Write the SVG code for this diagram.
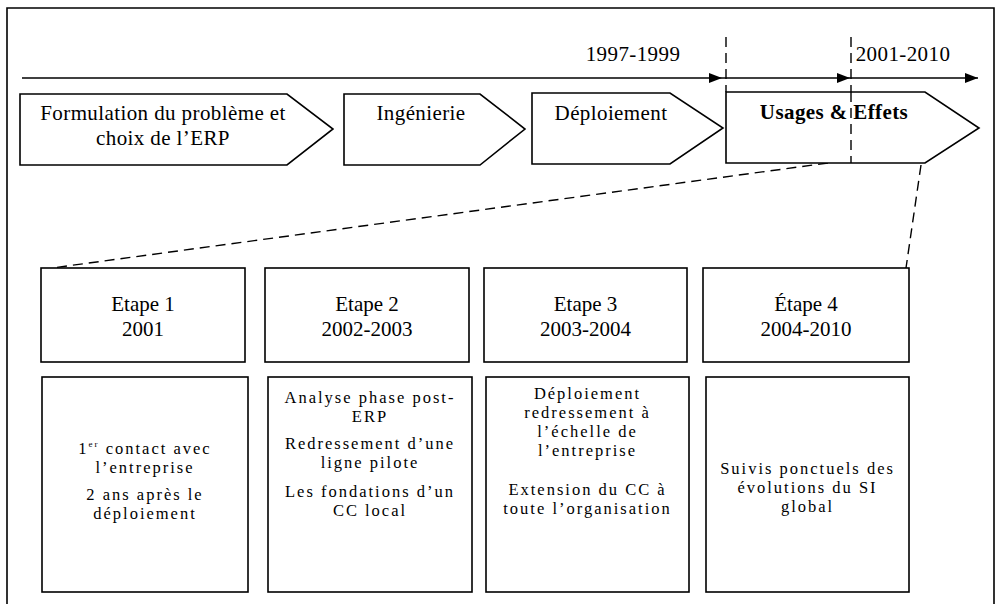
<svg xmlns="http://www.w3.org/2000/svg" width="997" height="604" viewBox="0 0 997 604">
<defs>
<marker id="ah" markerUnits="userSpaceOnUse" markerWidth="14" markerHeight="10" refX="13" refY="5" orient="auto">
<path d="M0,0 L13,5 L0,10 Z" fill="#000"/>
</marker>
<style>
.box{fill:#fff;stroke:#000;stroke-width:1.6}
.t{font-family:"Liberation Serif","Times New Roman",serif;fill:#000;text-anchor:middle}
.top{font-size:21px;letter-spacing:0.4px}
.hd{font-size:21px}
.bd{font-size:16.5px;letter-spacing:2px}
.dash{fill:none;stroke:#000;stroke-width:1.4;stroke-dasharray:10,6}
.axis{fill:none;stroke:#000;stroke-width:1.6}
</style>
</defs>
<rect width="997" height="604" fill="#fff"/>
<path d="M7,604 L7,8 L994,8 L994,604" fill="none" stroke="#000" stroke-width="1.6"/>

<g id="connectors">
<path class="axis" d="M22,78 L722,78" marker-end="url(#ah)"/>
<path class="axis" d="M722,78 L850,78" marker-end="url(#ah)"/>
<path class="axis" d="M850,78 L978,78" marker-end="url(#ah)"/>
<path class="dash" d="M726,37 L726,92"/>
<path class="dash" d="M851,37 L851,165"/>
<path class="dash" d="M828,163 L52,268"/>
<path class="dash" d="M921,165 L906,268"/>
</g>

<g id="period-1997">
<text class="t top" x="633" y="61">1997-1999</text>
</g>
<g id="period-2001">
<text class="t top" x="903" y="61">2001-2010</text>
</g>

<g id="phase-formulation">
<path class="box" d="M20,94 L287,94 L333,129 L287,165 L20,165 Z"/>
<text class="t top" x="163" y="120">Formulation du problème et</text>
<text class="t top" x="163" y="145">choix de l’ERP</text>
</g>
<g id="phase-ingenierie">
<path class="box" d="M344,94 L480,94 L525,129 L480,165 L344,165 Z"/>
<text class="t top" x="421" y="120">Ingénierie</text>
</g>
<g id="phase-deploiement">
<path class="box" d="M532,93 L670,93 L723,128 L670,164 L532,164 Z"/>
<text class="t top" x="611" y="120">Déploiement</text>
</g>
<g id="phase-usages">
<path class="box" d="M726,92 L925,92 L979,128 L925,163 L726,163 Z" stroke-width="2"/>
<path class="dash" d="M851,92 L851,163"/>
<text class="t top" x="834" y="119" font-weight="bold">Usages &amp; Effets</text>
</g>

<g id="etape-1">
<rect class="box" x="41" y="268" width="204" height="94"/>
<text class="t hd" x="143" y="311">Etape 1</text>
<text class="t hd" x="143" y="336">2001</text>
</g>
<g id="etape-2">
<rect class="box" x="265" y="268" width="204" height="94"/>
<text class="t hd" x="367" y="311">Etape 2</text>
<text class="t hd" x="367" y="336">2002-2003</text>
</g>
<g id="etape-3">
<rect class="box" x="484" y="268" width="203" height="94"/>
<text class="t hd" x="585.5" y="311">Etape 3</text>
<text class="t hd" x="585.5" y="336">2003-2004</text>
</g>
<g id="etape-4">
<rect class="box" x="703" y="268" width="206" height="94"/>
<text class="t hd" x="806" y="311">Étape 4</text>
<text class="t hd" x="806" y="336">2004-2010</text>
</g>

<g id="detail-1">
<rect class="box" x="42" y="377" width="206" height="215"/>
<text class="t bd" x="145" y="454">1<tspan font-size="9" dy="-7">er</tspan><tspan dy="7"> contact avec</tspan></text>
<text class="t bd" x="145" y="473">l’entreprise</text>
<text class="t bd" x="145" y="500">2 ans après le</text>
<text class="t bd" x="145" y="519">déploiement</text>
</g>
<g id="detail-2">
<rect class="box" x="268" y="377" width="204" height="215"/>
<text class="t bd" x="370" y="403">Analyse phase post-</text>
<text class="t bd" x="370" y="422">ERP</text>
<text class="t bd" x="370" y="449">Redressement d’une</text>
<text class="t bd" x="370" y="468">ligne pilote</text>
<text class="t bd" x="370" y="497">Les fondations d’un</text>
<text class="t bd" x="370" y="516">CC local</text>
</g>
<g id="detail-3">
<rect class="box" x="486" y="377" width="203" height="215"/>
<text class="t bd" x="587.5" y="399">Déploiement</text>
<text class="t bd" x="587.5" y="418">redressement à</text>
<text class="t bd" x="587.5" y="437">l’échelle de</text>
<text class="t bd" x="587.5" y="456">l’entreprise</text>
<text class="t bd" x="587.5" y="495">Extension du CC à</text>
<text class="t bd" x="587.5" y="514">toute l’organisation</text>
</g>
<g id="detail-4">
<rect class="box" x="706" y="377" width="203" height="215"/>
<text class="t bd" x="807.5" y="474">Suivis ponctuels des</text>
<text class="t bd" x="807.5" y="493">évolutions du SI</text>
<text class="t bd" x="807.5" y="512">global</text>
</g>
</svg>
